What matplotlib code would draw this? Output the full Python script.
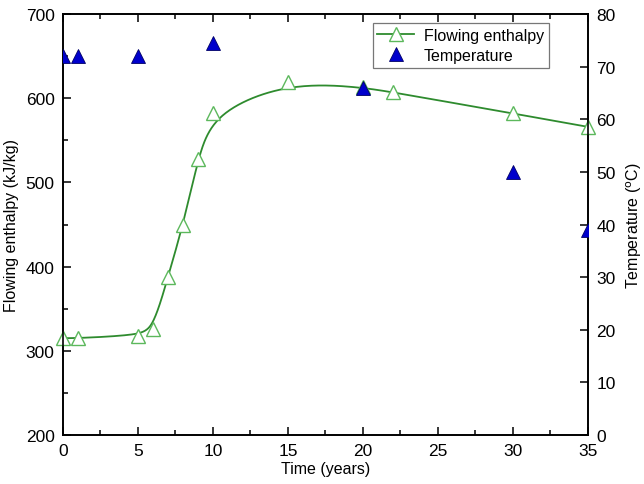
import numpy as np
import matplotlib
matplotlib.use("Agg")
import matplotlib.pyplot as plt
from matplotlib.ticker import MultipleLocator
from matplotlib.lines import Line2D

plt.rcParams['font.family'] = ['Liberation Sans', 'DejaVu Sans']

years_h = [0, 1, 5, 6, 7, 8, 9, 10, 15, 20, 22, 30, 35]
enthalpy = [315, 315, 318, 326, 388, 449, 528, 583, 619, 613, 607, 582, 566]
years_t = [0, 1, 5, 10, 20, 30, 35]
temperature = [72, 72, 72, 74.5, 66, 50, 39]


def bspline(px, py, n=400, k=3):
    # clamped uniform cubic B-spline with data points as control points
    px = np.asarray(px, float); py = np.asarray(py, float)
    m = len(px)
    knots = np.concatenate([np.zeros(k), np.linspace(0, 1, m - k + 1), np.ones(k)])
    u = np.linspace(0, 1, n)
    u[-1] = 1 - 1e-12

    def basis(i, p, t):
        if p == 0:
            return np.where((knots[i] <= t) & (t < knots[i + 1]), 1.0, 0.0)
        d1 = knots[i + p] - knots[i]
        d2 = knots[i + p + 1] - knots[i + 1]
        res = np.zeros_like(t)
        if d1 > 0:
            res += (t - knots[i]) / d1 * basis(i, p - 1, t)
        if d2 > 0:
            res += (knots[i + p + 1] - t) / d2 * basis(i + 1, p - 1, t)
        return res

    B = np.array([basis(i, k, u) for i in range(m)])
    return B.T @ px, B.T @ py


fig = plt.figure(figsize=(6.44, 4.85), dpi=100)
ax = fig.add_axes([0.0978, 0.101, 0.8152, 0.868])
ax2 = ax.twinx()

line_green = '#2e8b2e'
mark_green = '#5cb85c'

cx, cy = bspline(years_h, enthalpy)
ax.plot(cx, cy, color=line_green, lw=1.3, zorder=2)
ax.plot(years_h, enthalpy, ls='none', marker='^', ms=10, mfc='white',
        mec=mark_green, mew=1.0, clip_on=False, zorder=3)

ax2.plot(years_t, temperature, ls='none', marker='^', ms=10, mfc='#0000cc',
         mec='#000066', mew=0.6, clip_on=True, zorder=4)

ax.set_xlim(0, 35)
ax.set_ylim(200, 700)
ax2.set_ylim(0, 80)

ax.xaxis.set_major_locator(MultipleLocator(5))
ax.xaxis.set_minor_locator(MultipleLocator(2.5))
ax.yaxis.set_major_locator(MultipleLocator(100))
ax.yaxis.set_minor_locator(MultipleLocator(50))
ax2.yaxis.set_major_locator(MultipleLocator(10))

fs = 12.5
lfs = 11.5
ax.tick_params(axis='x', which='both', direction='in', top=True, labelsize=fs, pad=6)
ax.tick_params(axis='y', which='both', direction='in', right=False, labelsize=fs, pad=6)
ax.tick_params(which='major', length=6, width=1.1)
ax.tick_params(which='minor', length=3.5, width=1.1)
ax2.tick_params(axis='y', which='major', direction='in', length=6, width=1.1, labelsize=fs, pad=6)

for a in (ax, ax2):
    for s in a.spines.values():
        s.set_linewidth(1.2)

ax.set_xlabel('Time (years)', fontsize=lfs, labelpad=2)
ax.set_ylabel('Flowing enthalpy (kJ/kg)', fontsize=lfs, labelpad=5)
ax2.set_ylabel('Temperature ($^{\\mathrm{o}}$C)', fontsize=lfs, labelpad=6)

h1 = Line2D([], [], color=line_green, lw=1.3, marker='^', ms=10, mfc='white', mec=mark_green)
h2 = Line2D([], [], ls='none', marker='^', ms=10, mfc='#0000cc', mec='#000066', mew=0.6)
leg = ax.legend([h1, h2], ['Flowing enthalpy', 'Temperature'], loc='upper right',
                bbox_to_anchor=(0.925, 0.978), fontsize=11.5, frameon=True, fancybox=False,
                edgecolor='#555555', borderpad=0.3, labelspacing=0.3, handlelength=2.3,
                handletextpad=0.6, borderaxespad=0)
leg.get_frame().set_linewidth(0.9)

fig.savefig('out.png', dpi=100)
